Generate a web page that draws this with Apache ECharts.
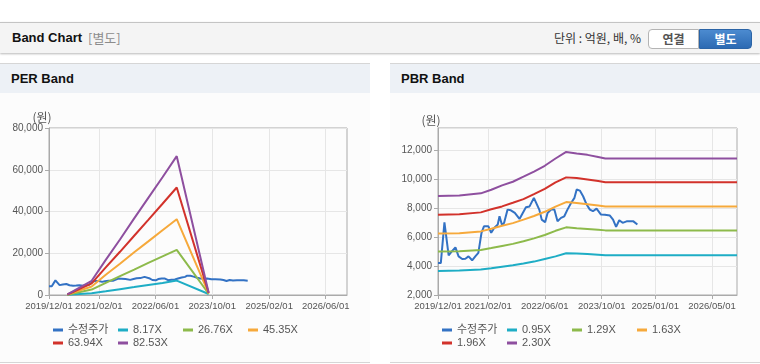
<!DOCTYPE html>
<html><head><meta charset="utf-8">
<script src="https://cdn.jsdelivr.net/npm/echarts@6/dist/echarts.min.js"></script>
<style>
html,body{margin:0;padding:0;width:760px;height:364px;overflow:hidden;background:#fff;font-family:Arial,"Liberation Sans","Noto Sans CJK KR",sans-serif;}
.abs{position:absolute;}
#topbar{left:0;top:22px;width:760px;height:30px;background:#f4f4f4;border-top:1px solid #c4c4c4;box-shadow:0 1px 2px rgba(0,0,0,0.28);}
#ttl{left:12px;top:0;line-height:30px;font-size:13px;font-weight:bold;color:#111;}
#ttl2{left:88px;top:0;line-height:30px;font-size:13px;color:#8c8c8c;font-family:"Noto Sans CJK KR",sans-serif;}
#unit{right:119px;top:0;line-height:30px;font-size:12px;color:#333;font-family:"Noto Sans CJK KR",sans-serif;}
.btn{top:6px;height:18px;line-height:18px;font-size:12px;font-weight:bold;text-align:center;font-family:"Noto Sans CJK KR",sans-serif;}
#b1{left:648px;width:49px;background:#fff;border:1px solid #b4b4b4;border-radius:4px 0 0 4px;color:#555;}
#b2{left:699px;width:51px;background:linear-gradient(#4c8bd0,#2c6ab3);border:1px solid #2b64a6;border-radius:0 4px 4px 0;color:#fff;}
.panel{top:63px;width:370px;height:298px;background:#fcfcfc;border-top:1px solid #d6d6d6;border-bottom:1px solid #d6d6d6;}
.phead{left:0;top:0;width:370px;height:29px;background:#edf1f6;}
.ptitle{left:11px;top:0;line-height:30px;font-size:13px;font-weight:bold;color:#111;}
#chart{left:0;top:0;width:760px;height:364px;}
</style>
</head><body>
<div id="topbar" class="abs">
  <div id="ttl" class="abs">Band Chart</div>
  <div id="ttl2" class="abs">[별도]</div>
  <div id="unit" class="abs">단위 : 억원, 배, %</div>
  <div id="b1" class="abs btn">연결</div>
  <div id="b2" class="abs btn">별도</div>
</div>
<div class="abs panel" style="left:0"><div class="abs phead"></div><div class="abs ptitle">PER Band</div></div>
<div class="abs panel" style="left:390px"><div class="abs phead"></div><div class="abs ptitle">PBR Band</div></div>
<div id="chart" class="abs"></div>
<script>
// ---- data ----
const priceDates = ['2019-12-01','2019-12-25','2020-01-25','2020-03-01','2020-03-28','2020-04-28','2020-05-25','2020-06-25','2020-07-22','2020-08-18','2020-09-18','2020-10-15','2020-11-10','2020-12-07','2020-12-28','2021-02-04','2021-02-28','2021-03-25','2021-04-25','2021-05-10','2021-06-01','2021-06-18','2021-07-18','2021-08-15','2021-09-18','2021-10-28','2021-11-25','2021-12-22','2022-01-22','2022-02-28','2022-03-15','2022-04-15','2022-05-06','2022-06-04','2022-06-25','2022-07-25','2022-08-22','2022-09-18','2022-10-18','2022-11-15','2022-12-12','2023-01-12','2023-02-10','2023-03-01','2023-03-28','2023-04-25','2023-05-25','2023-06-22','2023-07-18','2023-08-18','2023-09-03','2023-09-25','2023-10-28','2023-12-10','2024-01-06','2024-02-01','2024-02-28','2024-03-28','2024-05-01','2024-06-28','2024-08-01'];
const price = [4200,4200,7000,4730,5000,5280,4660,4480,4500,4660,4390,4660,4900,6280,6730,6730,6280,6620,6850,7420,6800,6960,7880,7830,7650,7240,7650,8040,8100,8690,8620,7880,7190,7010,7650,7880,7880,7080,7310,7420,7880,8340,8690,9260,9190,8800,8230,7880,7770,7950,7880,7540,7520,7470,7190,6690,7150,6970,7070,7070,6850];

const perDates = ['2020-05-07','2020-12-01','2021-04-01','2021-08-01','2021-12-01','2022-04-01','2022-08-01','2022-12-01','2023-09-01'];
const per817  = [100, 850, 1800, 2800, 3800, 4800, 5800, 6900, 500];
const per2676 = [150, 2600, 5800, 9000, 12200, 15400, 18500, 21600, 600];
const per4535 = [200, 4100, 9700, 15000, 20500, 25700, 31000, 36300, 800];
const per6394 = [250, 5600, 13200, 20700, 28400, 36000, 43700, 51500, 1000];
const per8253 = [300, 6800, 16800, 26600, 36700, 46500, 56400, 66500, 1100];

const pbrDates = ['2019-12-01','2020-06-01','2020-12-01','2021-03-01','2021-06-01','2021-09-01','2021-12-01','2022-03-01','2022-06-01','2022-09-01','2022-12-01','2023-03-01','2023-06-01','2023-09-01','2023-11-01','2026-12-01'];
const pbr095 = [3660,3680,3760,3840,3950,4050,4170,4300,4480,4660,4880,4850,4820,4770,4730,4730];
const pbr129 = [5000,5010,5100,5230,5380,5520,5700,5900,6130,6420,6660,6600,6550,6490,6450,6450];
const pbr163 = [6230,6260,6380,6560,6770,6950,7190,7440,7730,8090,8400,8330,8250,8160,8090,8090];
const pbr196 = [7530,7560,7690,7900,8100,8350,8600,8950,9310,9760,10100,10050,9950,9850,9770,9770];
const pbr230 = [8820,8860,9000,9250,9550,9800,10150,10500,10900,11400,11850,11750,11650,11500,11400,11400];

const perNames = ['수정주가','8.17X','26.76X','45.35X','63.94X','82.53X'];
const pbrNames = ['수정주가','0.95X','1.29X','1.63X','1.96X','2.30X'];
const perTicks = ['2019/12/01','2021/02/01','2022/06/01','2023/10/01','2025/02/01','2026/06/01'];
const pbrTicks = ['2019/12/01','2021/02/01','2022/06/01','2023/10/01','2025/01/01','2026/05/01'];
const axisStart = '2019/12/01', axisEnd = '2026/12/01';
const colors = ['#3372c4','#1eadc5','#8dba4b','#f6a93b','#d2322b','#8e4f9f'];

// ---- helpers ----
function ts(s){const p=s.split(/[-\/]/).map(Number);return Date.UTC(p[0],p[1]-1,p[2]);}
function pad(n){return (n<10?'0':'')+n;}
function fmtDate(v){const d=new Date(v);return d.getUTCFullYear()+'/'+pad(d.getUTCMonth()+1)+'/'+pad(d.getUTCDate());}
function zip(dates, vals){return dates.map((d,i)=>[ts(d), vals[i]]);}

const labelFont = "Arial, 'Liberation Sans', sans-serif";
function xAxis(idx, ticks){
  const cv = ticks.map(ts);
  return {type:'value', gridIndex:idx, min:ts(axisStart), max:ts(axisEnd), scale:true,
    axisLine:{show:true,onZero:false,lineStyle:{color:'#aaa'}},
    axisTick:{show:true,length:4,customValues:cv,lineStyle:{color:'#aaa'}},
    axisLabel:{customValues:cv,formatter:fmtDate,fontSize:9.5,color:'#555',margin:6,fontFamily:labelFont,hideOverlap:false,showMinLabel:true,showMaxLabel:true},
    splitLine:{show:true,lineStyle:{color:'#e6e6e6'}}};
}
function yAxis(idx, min, max, interval, showMax){
  return {type:'value', gridIndex:idx, min:min, max:max, interval:interval,
    name:'(원)', nameLocation:'end', nameGap:2,
    nameTextStyle:{color:'#555',fontSize:12,align:'center',padding:[0,14,0,0],fontFamily:"'Noto Sans CJK KR',sans-serif"},
    axisLine:{show:true,lineStyle:{color:'#aaa'}},
    axisTick:{show:true,length:4,lineStyle:{color:'#aaa'}},
    axisLabel:{fontSize:10,color:'#555',margin:6,fontFamily:labelFont,showMaxLabel:showMax,
      formatter:v=>v.toLocaleString('en-US')},
    splitLine:{show:true,lineStyle:{color:'#e6e6e6'}}};
}
function line(name, data, ci, axisIdx){
  return {type:'line', name:name, xAxisIndex:axisIdx, yAxisIndex:axisIdx, data:data,
    showSymbol:false, symbol:'none', animation:false,
    lineStyle:{width:2,color:colors[ci]}, itemStyle:{color:colors[ci]}};
}
function legend(left, names){
  return {data:names, left:left, top:319, width:262, orient:'horizontal',
    icon:'rect', itemWidth:10, itemHeight:3, itemGap:1, padding:5,
    textStyle:{fontSize:11,color:'#555',width:49,lineHeight:12,fontFamily:"Arial,'Noto Sans CJK KR',sans-serif"}};
}

const perSeries = [price, per817, per2676, per4535, per6394, per8253];
const pbrSeries = [price, pbr095, pbr129, pbr163, pbr196, pbr230];

const series = [];
perNames.forEach((n,i)=>series.push(line(n, i===0?zip(priceDates,price):zip(perDates,perSeries[i]), i, 0)));
pbrNames.forEach((n,i)=>series.push(line(n, i===0?zip(priceDates,price):zip(pbrDates,pbrSeries[i]), i, 1)));

const chart = echarts.init(document.getElementById('chart'), null, {renderer:'canvas'});
chart.setOption({
  animation:false,
  color:colors,
  grid:[
    {left:49, top:128, width:298, height:167, show:true, borderColor:'#aaa', borderWidth:1, containLabel:false},
    {left:438, top:128, width:299, height:167, show:true, borderColor:'#aaa', borderWidth:1, containLabel:false}
  ],
  xAxis:[xAxis(0, perTicks), xAxis(1, pbrTicks)],
  yAxis:[yAxis(0, 0, 80000, 20000, true), yAxis(1, 2000, 13500, 2000, false)],
  legend:[legend(48, perNames), legend(437, pbrNames)],
  tooltip:{show:false},
  series:series
});
</script>
</body></html>
